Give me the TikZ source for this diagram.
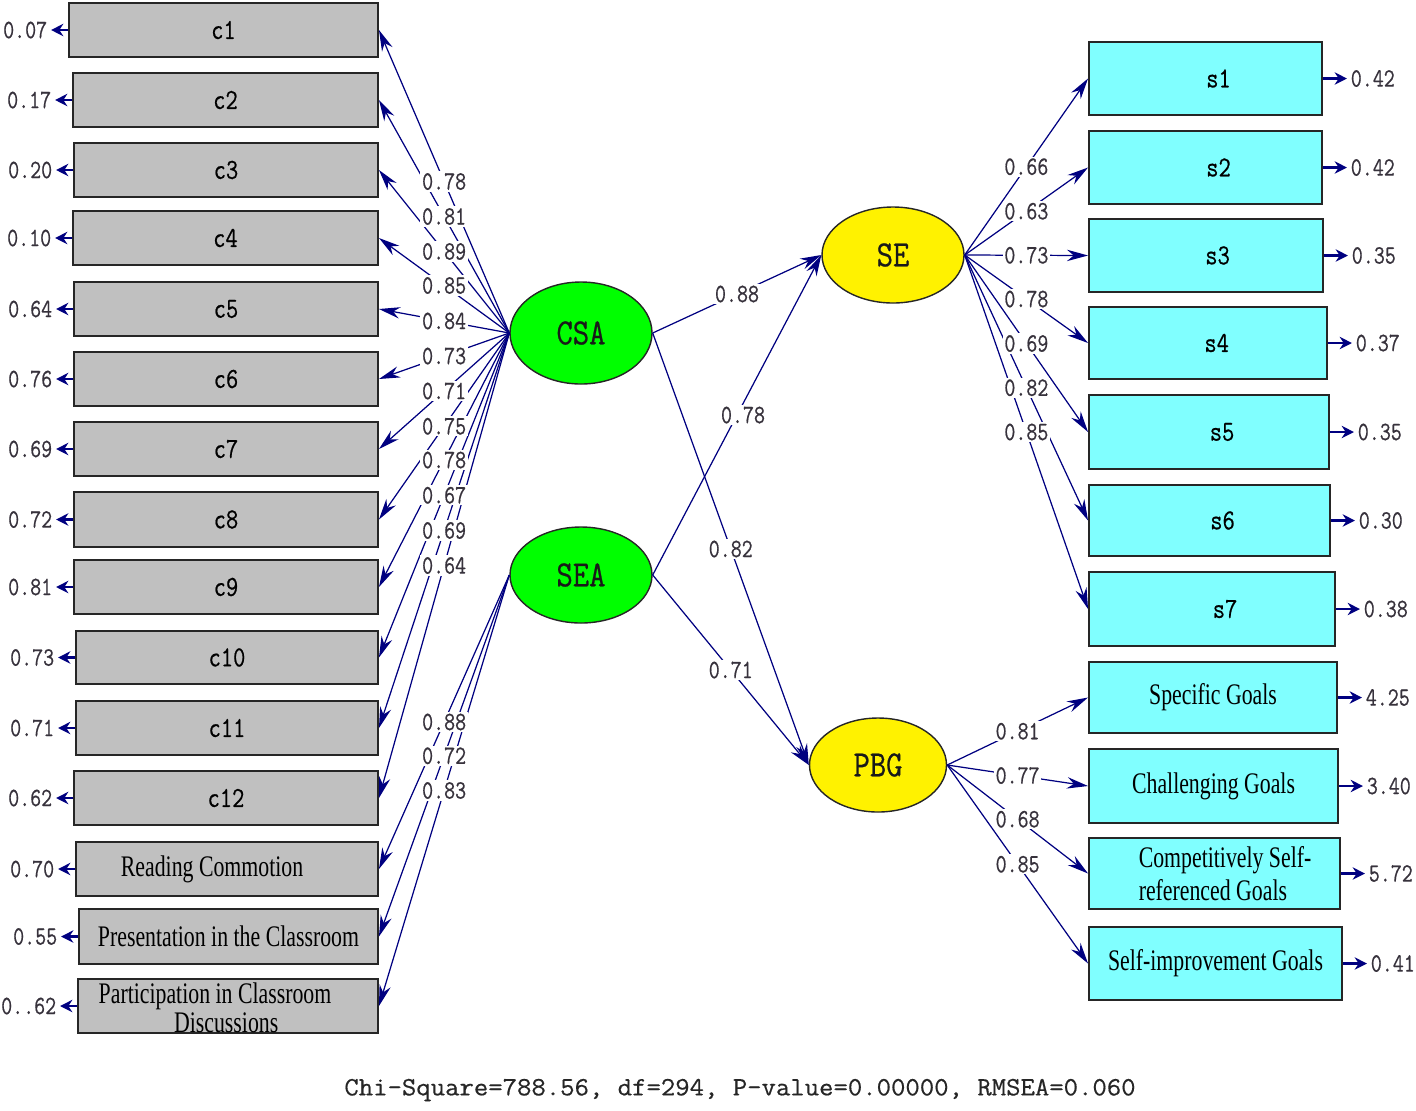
\documentclass[tikz,border=0pt]{standalone}
\usepackage{fontspec}
\setmainfont{Liberation Serif}
\newfontfamily\numfont[FakeStretch=0.81, FakeBold=0.6]{Latin Modern Mono}
\newfontfamily\boxmono[FakeStretch=0.82, FakeBold=0.6]{Latin Modern Mono}
\newfontfamily\latfont[FakeStretch=0.86, FakeBold=0.6]{Latin Modern Mono}
\newfontfamily\plainmono[FakeStretch=1.06, FakeBold=0.5]{Latin Modern Mono}
\newfontfamily\condfont[FakeStretch=0.73]{Liberation Serif}
\usetikzlibrary{arrows.meta,shapes.geometric}
\definecolor{navy}{RGB}{0,0,128}
\definecolor{boxgray}{RGB}{192,192,192}
\definecolor{boxcyan}{RGB}{128,255,255}
\definecolor{numgray}{RGB}{55,50,60}
\tikzset{
  obsbox/.style={draw=black!85, line width=1.1pt, inner sep=0pt, text=black},
  graybox/.style={obsbox, fill=boxgray},
  cyanbox/.style={obsbox, fill=boxcyan},
  monotext/.style={font=\boxmono\fontsize{16.5}{18}\selectfont},
  sertext/.style={font=\condfont\fontsize{17}{17}\selectfont, text=black},
  latent/.style={ellipse, draw=black!85, line width=0.8pt, inner sep=0pt, font=\latfont\fontsize{21}{23}\selectfont, text=black!90},
  lnk/.style={draw=navy, line width=0.7pt, -{Stealth[length=12pt,width=6.5pt]}},
  errarrow/.style={draw=navy, line width=1.6pt, -{Stealth[length=7pt,width=7pt]}},
  errlab/.style={inner sep=2pt, text=numgray, font=\numfont\fontsize{15}{17}\selectfont},
  lab/.style={fill=white, inner sep=1pt, text=numgray, font=\numfont\fontsize{15}{17}\selectfont},
}
% [options] name, x1, y1, x2, y2, text, error
\newcommand\lbox[8][]{%
  \node[graybox, #1, minimum width={(#5-#3)*0.02cm}, minimum height={(#6-#4)*0.02cm}] (#2) at ({(#3+#5)/2},{(#4+#6)/2}) {#7};
  \draw[errarrow] (#2.west) -- ++(-17,0) coordinate (#2e);
  \node[errlab, anchor=east] (#2n) at (#2e) {#8};}
\newcommand\rbox[8][]{%
  \node[cyanbox, #1, minimum width={(#5-#3)*0.02cm}, minimum height={(#6-#4)*0.02cm}] (#2) at ({(#3+#5)/2},{(#4+#6)/2}) {#7};
  \draw[errarrow] (#2.east) -- ++(24,0) coordinate (#2e);
  \node[errlab, anchor=west] (#2n) at (#2e) {#8};}
\begin{document}
\begin{tikzpicture}[x=0.02cm, y=-0.02cm]
\useasboundingbox (0,0) rectangle (1416,1110);
% left indicators
\lbox[monotext]{c1}{69}{3}{378}{57}{c1}{0.07}
\lbox[monotext]{c2}{73}{73}{378}{127}{c2}{0.17}
\lbox[monotext]{c3}{74}{143}{378}{197}{c3}{0.20}
\lbox[monotext]{c4}{73}{211}{378}{265}{c4}{0.10}
\lbox[monotext]{c5}{74}{282}{378}{336}{c5}{0.64}
\lbox[monotext]{c6}{74}{352}{378}{406}{c6}{0.76}
\lbox[monotext]{c7}{74}{422}{378}{476}{c7}{0.69}
\lbox[monotext]{c8}{74}{492}{378}{547}{c8}{0.72}
\lbox[monotext]{c9}{74}{560}{378}{614}{c9}{0.81}
\lbox[monotext]{c10}{76}{631}{378}{684}{c10}{0.73}
\lbox[monotext]{c11}{76}{701}{378}{755}{c11}{0.71}
\lbox[monotext]{c12}{74}{771}{378}{825}{c12}{0.62}
\lbox[sertext]{rc}{76}{842}{378}{896}{Reading Commotion\hspace*{1em}}{0.70}
\lbox[sertext]{pc}{79}{909}{378}{964}{Presentation in the Classroom}{0.55}
\lbox[label={[sertext, align=center, xshift=-0.26cm, yshift=-1pt]center:Participation in Classroom\\[0pt]\hspace*{0.75em}Discussions}]{pd}{78}{979}{378}{1033}{}{0..62}
% right indicators
\rbox[monotext]{s1}{1089}{42}{1322}{115}{\hspace*{0.9em}s1}{0.42}
\rbox[monotext]{s2}{1089}{131}{1322}{204}{\hspace*{0.9em}s2}{0.42}
\rbox[monotext]{s3}{1089}{219}{1323}{292}{\hspace*{0.8em}s3}{0.35}
\rbox[monotext]{s4}{1089}{307}{1327}{379}{\hspace*{0.6em}s4}{0.37}
\rbox[monotext]{s5}{1089}{395}{1329}{469}{\hspace*{0.9em}s5}{0.35}
\rbox[monotext]{s6}{1089}{485}{1330}{556}{\hspace*{0.9em}s6}{0.30}
\rbox[monotext]{s7}{1089}{572}{1335}{646}{\hspace*{0.9em}s7}{0.38}
\rbox[sertext]{sg}{1089}{662}{1337}{733}{Specific Goals}{4.25}
\rbox[sertext]{cg}{1089}{749}{1338}{823}{Challenging Goals}{3.40}
\rbox[label={[sertext, align=left, xshift=6pt]center:Competitively Self-\\[2pt]referenced Goals}]{cs}{1089}{838}{1340}{909}{}{5.72}
\rbox[sertext]{si}{1089}{927}{1342}{1000}{Self-improvement Goals}{0.41}
% latent variables
\node[latent, fill=green, minimum width={142*0.02cm}, minimum height={102*0.02cm}] (CSA) at (581,333) {CSA};
\node[latent, fill=green, minimum width={142*0.02cm}, minimum height={96*0.02cm}] (SEA) at (581,575) {SEA};
\node[latent, fill=yellow, minimum width={142*0.02cm}, minimum height={96*0.02cm}] (SE) at (893,255) {SE};
\node[latent, fill=yellow, minimum width={137*0.02cm}, minimum height={94*0.02cm}] (PBG) at (878,765) {PBG};
% measurement paths
\foreach \i in {1,...,12}{
  \draw[lnk] (CSA.west) -- coordinate[pos=0.5] (mc\i) (c\i.east);}
\foreach \b in {rc,pc,pd}{
  \draw[lnk] (SEA.west) -- coordinate[pos=0.5] (m\b) (\b.east);}
\foreach \i in {1,...,7}{
  \draw[lnk] (SE.east) -- coordinate[pos=0.5] (ms\i) (s\i.west);}
\foreach \b in {sg,cg,cs,si}{
  \draw[lnk] (PBG.east) -- coordinate[pos=0.5] (m\b) (\b.west);}
% structural paths
\draw[lnk] (CSA.east) -- coordinate[pos=0.5] (mA) (SE.west);
\draw[lnk] (SEA.east) -- coordinate[pos=0.5] (mB) (SE.west);
\draw[lnk] (CSA.east) -- coordinate[pos=0.5] (mC) (PBG.west);
\draw[lnk] (SEA.east) -- coordinate[pos=0.5] (mD) (PBG.west);
% labels
\foreach \i/\v in {1/0.78,2/0.81,3/0.89,4/0.85,5/0.84,6/0.73,7/0.71,8/0.75,9/0.78,10/0.67,11/0.69,12/0.64}{
  \node[lab] (lc\i) at (mc\i) {\v};}
\foreach \b/\v in {rc/0.88,pc/0.72,pd/0.83,sg/0.81,cg/0.77,cs/0.68,si/0.85}{
  \node[lab] (l\b) at (m\b) {\v};}
\foreach \i/\v in {1/0.66,2/0.63,3/0.73,4/0.78,5/0.69,6/0.82,7/0.85}{
  \node[lab] (ls\i) at (ms\i) {\v};}
\node[lab] (lA) at (mA) {0.88};
\node[lab] (lB) at ([xshift=0.12cm]mB) {0.78};
\node[lab] (lC) at (mC) {0.82};
\node[lab] (lD) at (mD) {0.71};
% fit statistics
\node[text=black!85, font=\plainmono\fontsize{15}{17}\selectfont] (fit) at (740,1090) {Chi-Square=788.56, df=294, P-value=0.00000, RMSEA=0.060};
\end{tikzpicture}
\end{document}
